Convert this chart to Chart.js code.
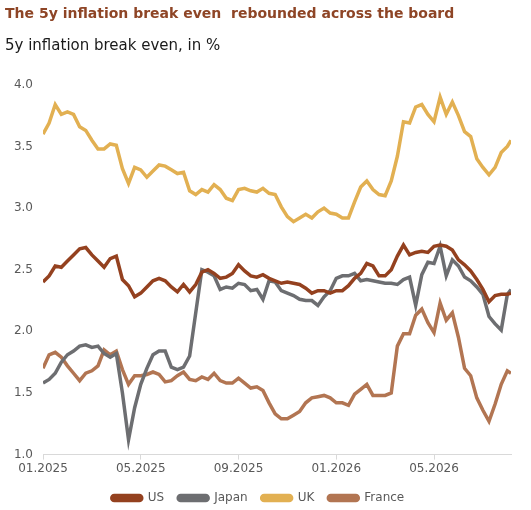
<!DOCTYPE html>
<html>
<head>
<meta charset="utf-8">
<script src="https://cdn.jsdelivr.net/npm/chart.js@4.4.1/dist/chart.umd.min.js"></script>
<style>
  html, body { margin: 0; padding: 0; background: #fff; overflow: hidden; }
  #wrap { width: 531px; height: 518px; }
</style>
</head>
<body>
<div id="wrap"><canvas id="bevChart"></canvas></div>
<script>
// x positions in months since 01.2025, roughly weekly
const months = [
  0, 0.25, 0.5, 0.75, 1, 1.25, 1.5, 1.75, 2, 2.25, 2.5, 2.75, 3, 3.25, 3.5, 3.75,
  4, 4.25, 4.5, 4.75, 5, 5.25, 5.5, 5.75, 6, 6.25, 6.5, 6.75, 7, 7.25, 7.5, 7.75,
  8, 8.25, 8.5, 8.75, 9, 9.25, 9.5, 9.75, 10, 10.25, 10.5, 10.75, 11, 11.25, 11.5, 11.75,
  12, 12.25, 12.5, 12.75, 13, 13.25, 13.5, 13.75, 14, 14.25, 14.5, 14.75, 15, 15.25, 15.5, 15.75,
  16, 16.25, 16.5, 16.75, 17, 17.25, 17.5, 17.75, 18, 18.25, 18.5, 18.75, 19, 19.15
]

const tickMonths = [0, 4, 8, 12, 16]
const tickLabels = ["01.2025", "05.2025", "09.2025", "01.2026", "05.2026"]

const us = [
  2.40, 2.45, 2.53, 2.52, 2.57, 2.62, 2.67, 2.68, 2.62, 2.57, 2.52, 2.59, 2.61, 2.42, 2.37, 2.28,
  2.31, 2.36, 2.41, 2.43, 2.41, 2.36, 2.32, 2.38, 2.32, 2.38, 2.48, 2.50, 2.47, 2.43, 2.44, 2.47,
  2.54, 2.49, 2.45, 2.44, 2.46, 2.43, 2.41, 2.39, 2.40, 2.39, 2.38, 2.35, 2.31, 2.33, 2.33, 2.31,
  2.33, 2.33, 2.37, 2.43, 2.47, 2.55, 2.53, 2.45, 2.45, 2.50, 2.61, 2.70, 2.62, 2.64, 2.65, 2.64,
  2.69, 2.70, 2.69, 2.66, 2.58, 2.54, 2.49, 2.42, 2.34, 2.24, 2.29, 2.30, 2.30, 2.31
]

const japan = [
  1.58, 1.61, 1.66, 1.75, 1.81, 1.84, 1.88, 1.89, 1.87, 1.88, 1.82, 1.79, 1.82, 1.50, 1.12, 1.38,
  1.57, 1.70, 1.81, 1.84, 1.84, 1.71, 1.69, 1.71, 1.80, 2.15, 2.50, 2.48, 2.45, 2.34, 2.36, 2.35,
  2.39, 2.38, 2.33, 2.34, 2.26, 2.41, 2.40, 2.33, 2.31, 2.29, 2.26, 2.25, 2.25, 2.21, 2.28, 2.33,
  2.43, 2.45, 2.45, 2.47, 2.41, 2.42, 2.41, 2.40, 2.39, 2.39, 2.38, 2.42, 2.44, 2.21, 2.46, 2.56,
  2.55, 2.69, 2.45, 2.58, 2.53, 2.44, 2.41, 2.36, 2.30, 2.12, 2.06, 2.01, 2.30, 2.34
]

const uk = [
  3.60, 3.69, 3.84, 3.76, 3.78, 3.76, 3.66, 3.63, 3.55, 3.48, 3.48, 3.52, 3.51, 3.32, 3.20, 3.33,
  3.31, 3.25, 3.30, 3.35, 3.34, 3.31, 3.28, 3.29, 3.14, 3.11, 3.15, 3.13, 3.19, 3.15, 3.08, 3.06,
  3.15, 3.16, 3.14, 3.13, 3.16, 3.12, 3.11, 3.01, 2.93, 2.89, 2.92, 2.95, 2.92, 2.97, 3.00, 2.96,
  2.95, 2.92, 2.92, 3.05, 3.17, 3.22, 3.15, 3.11, 3.10, 3.22, 3.42, 3.70, 3.69, 3.82, 3.84, 3.76,
  3.70, 3.90, 3.76, 3.86, 3.75, 3.62, 3.58, 3.40, 3.33, 3.27, 3.33, 3.45, 3.50, 3.55
]

const france = [
  1.70, 1.81, 1.83, 1.79, 1.72, 1.66, 1.60, 1.66, 1.68, 1.72, 1.85, 1.81, 1.84, 1.69, 1.57, 1.64,
  1.64, 1.65, 1.67, 1.65, 1.59, 1.60, 1.64, 1.67, 1.61, 1.60, 1.63, 1.61, 1.66, 1.60, 1.58, 1.58,
  1.62, 1.58, 1.54, 1.55, 1.52, 1.42, 1.33, 1.29, 1.29, 1.32, 1.35, 1.42, 1.46, 1.47, 1.48, 1.46,
  1.42, 1.42, 1.40, 1.49, 1.53, 1.57, 1.48, 1.48, 1.48, 1.50, 1.88, 1.98, 1.98, 2.13, 2.18, 2.07,
  1.99, 2.23, 2.09, 2.15, 1.95, 1.70, 1.64, 1.46, 1.36, 1.27, 1.41, 1.57, 1.68, 1.66
]

const seriesNames = ["US", "Japan", "UK", "France"]
const seriesColors = ["#94411f", "#6d6e71", "#e2b052", "#b27552"]

function toPoints(values) {
  return values.map(function(v, i) { return {x: months[i], y: v} })
}

const allSeries = [us, japan, uk, france]

const chart = new Chart('bevChart', {
  type: 'line',
  data: {
    datasets: allSeries.map(function(vals, i) {
      return {
        label: seriesNames[i],
        data: toPoints(vals),
        borderColor: seriesColors[i],
        backgroundColor: seriesColors[i],
        borderWidth: 3.5,
        pointRadius: 0,
        tension: 0
      }
    })
  },
  options: {
    responsive: true,
    maintainAspectRatio: false,
    animation: false,
    layout: { padding: { left: 5, right: 20, top: 6, bottom: 4 } },
    plugins: {
      title: {
        display: true,
        text: 'The 5y inflation break even  rebounded across the board',
        align: 'start',
        color: '#8e4526',
        font: { family: 'DejaVu Sans', size: 14, weight: 'bold' },
        padding: { top: 0, bottom: 8 }
      },
      subtitle: {
        display: true,
        text: '5y inflation break even, in %',
        align: 'start',
        color: '#1a1a1a',
        font: { family: 'DejaVu Sans', size: 15 },
        padding: { top: 6, bottom: 30 }
      },
      legend: {
        position: 'bottom',
        labels: {
          color: '#595959',
          font: { family: 'DejaVu Sans', size: 12 },
          boxWidth: 30,
          boxHeight: 5,
          useBorderRadius: true,
          borderRadius: 2.5,
          padding: 14
        }
      },
      tooltip: { enabled: false }
    },
    scales: {
      x: {
        type: 'linear',
        min: 0,
        max: 19.15,
        afterBuildTicks: function(scale) {
          scale.ticks = tickMonths.map(function(v) { return {value: v} })
        },
        ticks: {
          color: '#595959',
          font: { family: 'DejaVu Sans', size: 12 },
          maxRotation: 0,
          padding: 2,
          callback: function(value) {
            const idx = tickMonths.indexOf(value)
            return idx >= 0 ? tickLabels[idx] : ''
          }
        },
        grid: { display: true, drawOnChartArea: false, drawTicks: true, tickLength: 5, color: '#d9d9d9' },
        border: { display: true, color: '#d9d9d9' }
      },
      y: {
        min: 1,
        max: 4,
        afterFit: function(scale) { scale.width = 38 },
        ticks: {
          stepSize: 0.5,
          color: '#595959',
          font: { family: 'DejaVu Sans', size: 12 },
          padding: 10,
          callback: function(value) { return value.toFixed(1) }
        },
        grid: { display: false, drawTicks: false },
        border: { display: false }
      }
    }
  }
})
</script>
</body>
</html>
